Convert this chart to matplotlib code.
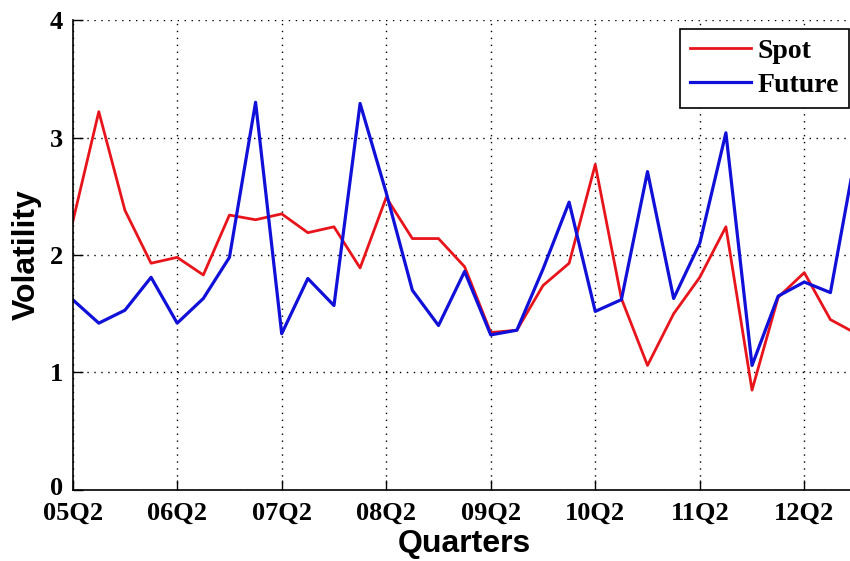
import numpy as np
import matplotlib
matplotlib.use('Agg')
import matplotlib.pyplot as plt
import matplotlib.transforms as mtransforms

# quarterly volatility, 05Q2 .. 12Q4
spot = [2.28, 3.22, 2.38, 1.93, 1.98, 1.83, 2.34, 2.30, 2.35, 2.19,
        2.24, 1.89, 2.49, 2.14, 2.14, 1.90, 1.34, 1.36, 1.74, 1.93,
        2.77, 1.63, 1.06, 1.50, 1.81, 2.24, 0.85, 1.64, 1.85, 1.45,
        1.33]
future = [1.62, 1.42, 1.53, 1.81, 1.42, 1.63, 1.98, 3.30, 1.33, 1.80,
          1.57, 3.29, 2.53, 1.70, 1.40, 1.86, 1.32, 1.36, 1.88, 2.45,
          1.52, 1.62, 2.71, 1.63, 2.10, 3.04, 1.06, 1.65, 1.77, 1.68,
          2.90]
tick_labels = ['05Q2', '06Q2', '07Q2', '08Q2', '09Q2', '10Q2', '11Q2', '12Q2']

x = np.arange(len(spot))

fig = plt.figure(figsize=(8.5, 5.61), dpi=100)
ax = fig.add_axes([0.0855, 0.1266, 0.9222, 0.8377])

ax.plot(x, spot, color='#e8141b', lw=2.0, label='Spot')
ax.plot(x, future, color='#1010d8', lw=2.3, label='Future')

ax.set_xlim(0, 30)
ax.set_ylim(0, 4)
ax.set_xticks(np.arange(0, 29, 4))
ax.set_xticklabels(tick_labels)
ax.set_yticks([0, 1, 2, 3, 4])

serif = ['Liberation Serif', 'DejaVu Serif']
sans = ['Liberation Sans', 'DejaVu Sans']
for lab in ax.get_xticklabels() + ax.get_yticklabels():
    lab.set_family(serif)
    lab.set_fontweight('bold')
    lab.set_fontsize(19)

ax.tick_params(direction='in', length=7, width=1)
ax.tick_params(axis='x', pad=8.5)
ax.tick_params(axis='y', pad=7)
ax.grid(True, color='black', linestyle=(0, (1, 4)), linewidth=1.0)
ax.spines['top'].set_visible(False)
ax.spines['right'].set_visible(False)
ax.spines['left'].set_linewidth(1.2)
ax.spines['bottom'].set_linewidth(1.2)

# nudge the "0" label up a little so it clears "05Q2"
zero = ax.get_yticklabels()[0]
zero.set_transform(zero.get_transform() + mtransforms.ScaledTranslation(0, 3 / 72, fig.dpi_scale_trans))

ax.set_xlabel('Quarters', family=sans, fontweight='bold', fontsize=23, labelpad=3)
ax.set_ylabel('Volatility', family=sans, fontweight='bold', fontsize=23, labelpad=6)

leg = ax.legend(loc='upper right', bbox_to_anchor=(849 / 850, 1 - 29 / 561), bbox_transform=fig.transFigure,
                fancybox=False, framealpha=1, edgecolor='black', handlelength=2.2,
                borderpad=0.35, labelspacing=0.3, handletextpad=0.25, borderaxespad=0,
                prop={'family': serif, 'weight': 'bold', 'size': 20})
leg.get_frame().set_linewidth(1.2)

fig.savefig('out.png', dpi=100)
